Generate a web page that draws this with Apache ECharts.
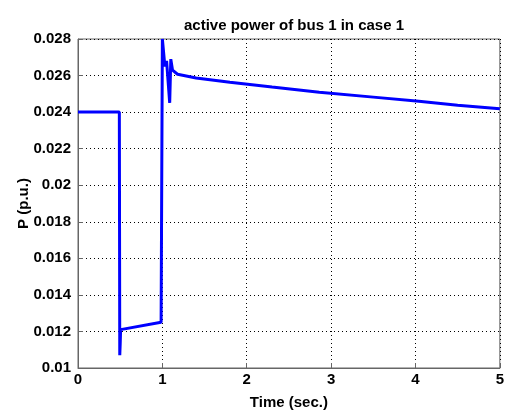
<!DOCTYPE html>
<html>
<head>
<meta charset="utf-8">
<script src="https://cdn.jsdelivr.net/npm/echarts@6/dist/echarts.min.js"></script>
<style>
  html, body { margin: 0; padding: 0; background: #fff; }
  #chart { width: 507px; height: 415px; }
</style>
</head>
<body>
<div id="chart"></div>
<script>
// 数据：时间 (s) 和 有功功率 (p.u.)
var timeSec = [0, 0.49, 0.495, 0.5, 0.505, 0.52, 0.985, 0.997, 1.0, 1.03, 1.05, 1.087, 1.1, 1.12, 1.18, 1.4, 1.8, 2.3, 2.86, 3.5, 4.04, 4.5, 5];
var powerPu = [0.024, 0.024, 0.0107, 0.0113, 0.0121, 0.0121, 0.0125, 0.0125, 0.028, 0.0265, 0.0268, 0.0245, 0.0269, 0.0263, 0.02607, 0.02587, 0.02563, 0.02537, 0.02509, 0.02482, 0.02459, 0.02438, 0.02418];
var xTicks = [0, 1, 2, 3, 4, 5];
var yTicks = [0.01, 0.012, 0.014, 0.016, 0.018, 0.02, 0.022, 0.024, 0.026, 0.028];

var chart = echarts.init(document.getElementById('chart'));
var font = 'Liberation Sans';

var option = {
    animation: false,
    title: {
        text: 'active power of bus 1 in case 1',
        left: 289, top: 13, textAlign: 'center',
        textStyle: { fontFamily: font, fontSize: 15, fontWeight: 'bold', color: '#000' }
    },
    grid: {
        left: 78, right: 6, top: 39, bottom: 40,
        show: true, borderColor: '#666', borderWidth: 1
    },
    xAxis: {
        type: 'value',
        min: xTicks[0], max: xTicks[xTicks.length - 1], interval: 1,
        name: 'Time (sec.)', nameLocation: 'middle', nameGap: 27,
        nameMoveOverlap: false,
        nameTextStyle: { fontFamily: font, fontSize: 15, fontWeight: 'bold', color: '#000' },
        axisLine: { show: true, lineStyle: { color: '#666' } },
        axisTick: { inside: true, length: 5, lineStyle: { color: '#666' } },
        axisLabel: { fontFamily: font, fontSize: 15, fontWeight: 'bold', color: '#000', margin: 4 },
        splitLine: { show: true, lineStyle: { color: '#000', type: [1, 3], width: 1 } }
    },
    yAxis: {
        type: 'value',
        min: yTicks[0], max: yTicks[yTicks.length - 1], interval: 0.002,
        name: 'P (p.u.)', nameLocation: 'middle', nameGap: 47,
        nameMoveOverlap: false,
        nameTextStyle: { fontFamily: font, fontSize: 15, fontWeight: 'bold', color: '#000' },
        axisLine: { show: true, lineStyle: { color: '#666' } },
        axisTick: { inside: true, length: 5, lineStyle: { color: '#666' } },
        axisLabel: {
            fontFamily: font, fontSize: 15, fontWeight: 'bold', color: '#000', margin: 7,
            formatter: function (v) { return String(+v.toFixed(3)); }
        },
        splitLine: { show: true, lineStyle: { color: '#000', type: [1, 3], width: 1 } }
    },
    series: [{
        type: 'line',
        data: timeSec.map(function (t, i) { return [t, powerPu[i]]; }),
        showSymbol: false,
        lineStyle: { color: '#0000ff', width: 3 },
        itemStyle: { color: '#0000ff' }
    }]
};

chart.setOption(option);
</script>
</body>
</html>
